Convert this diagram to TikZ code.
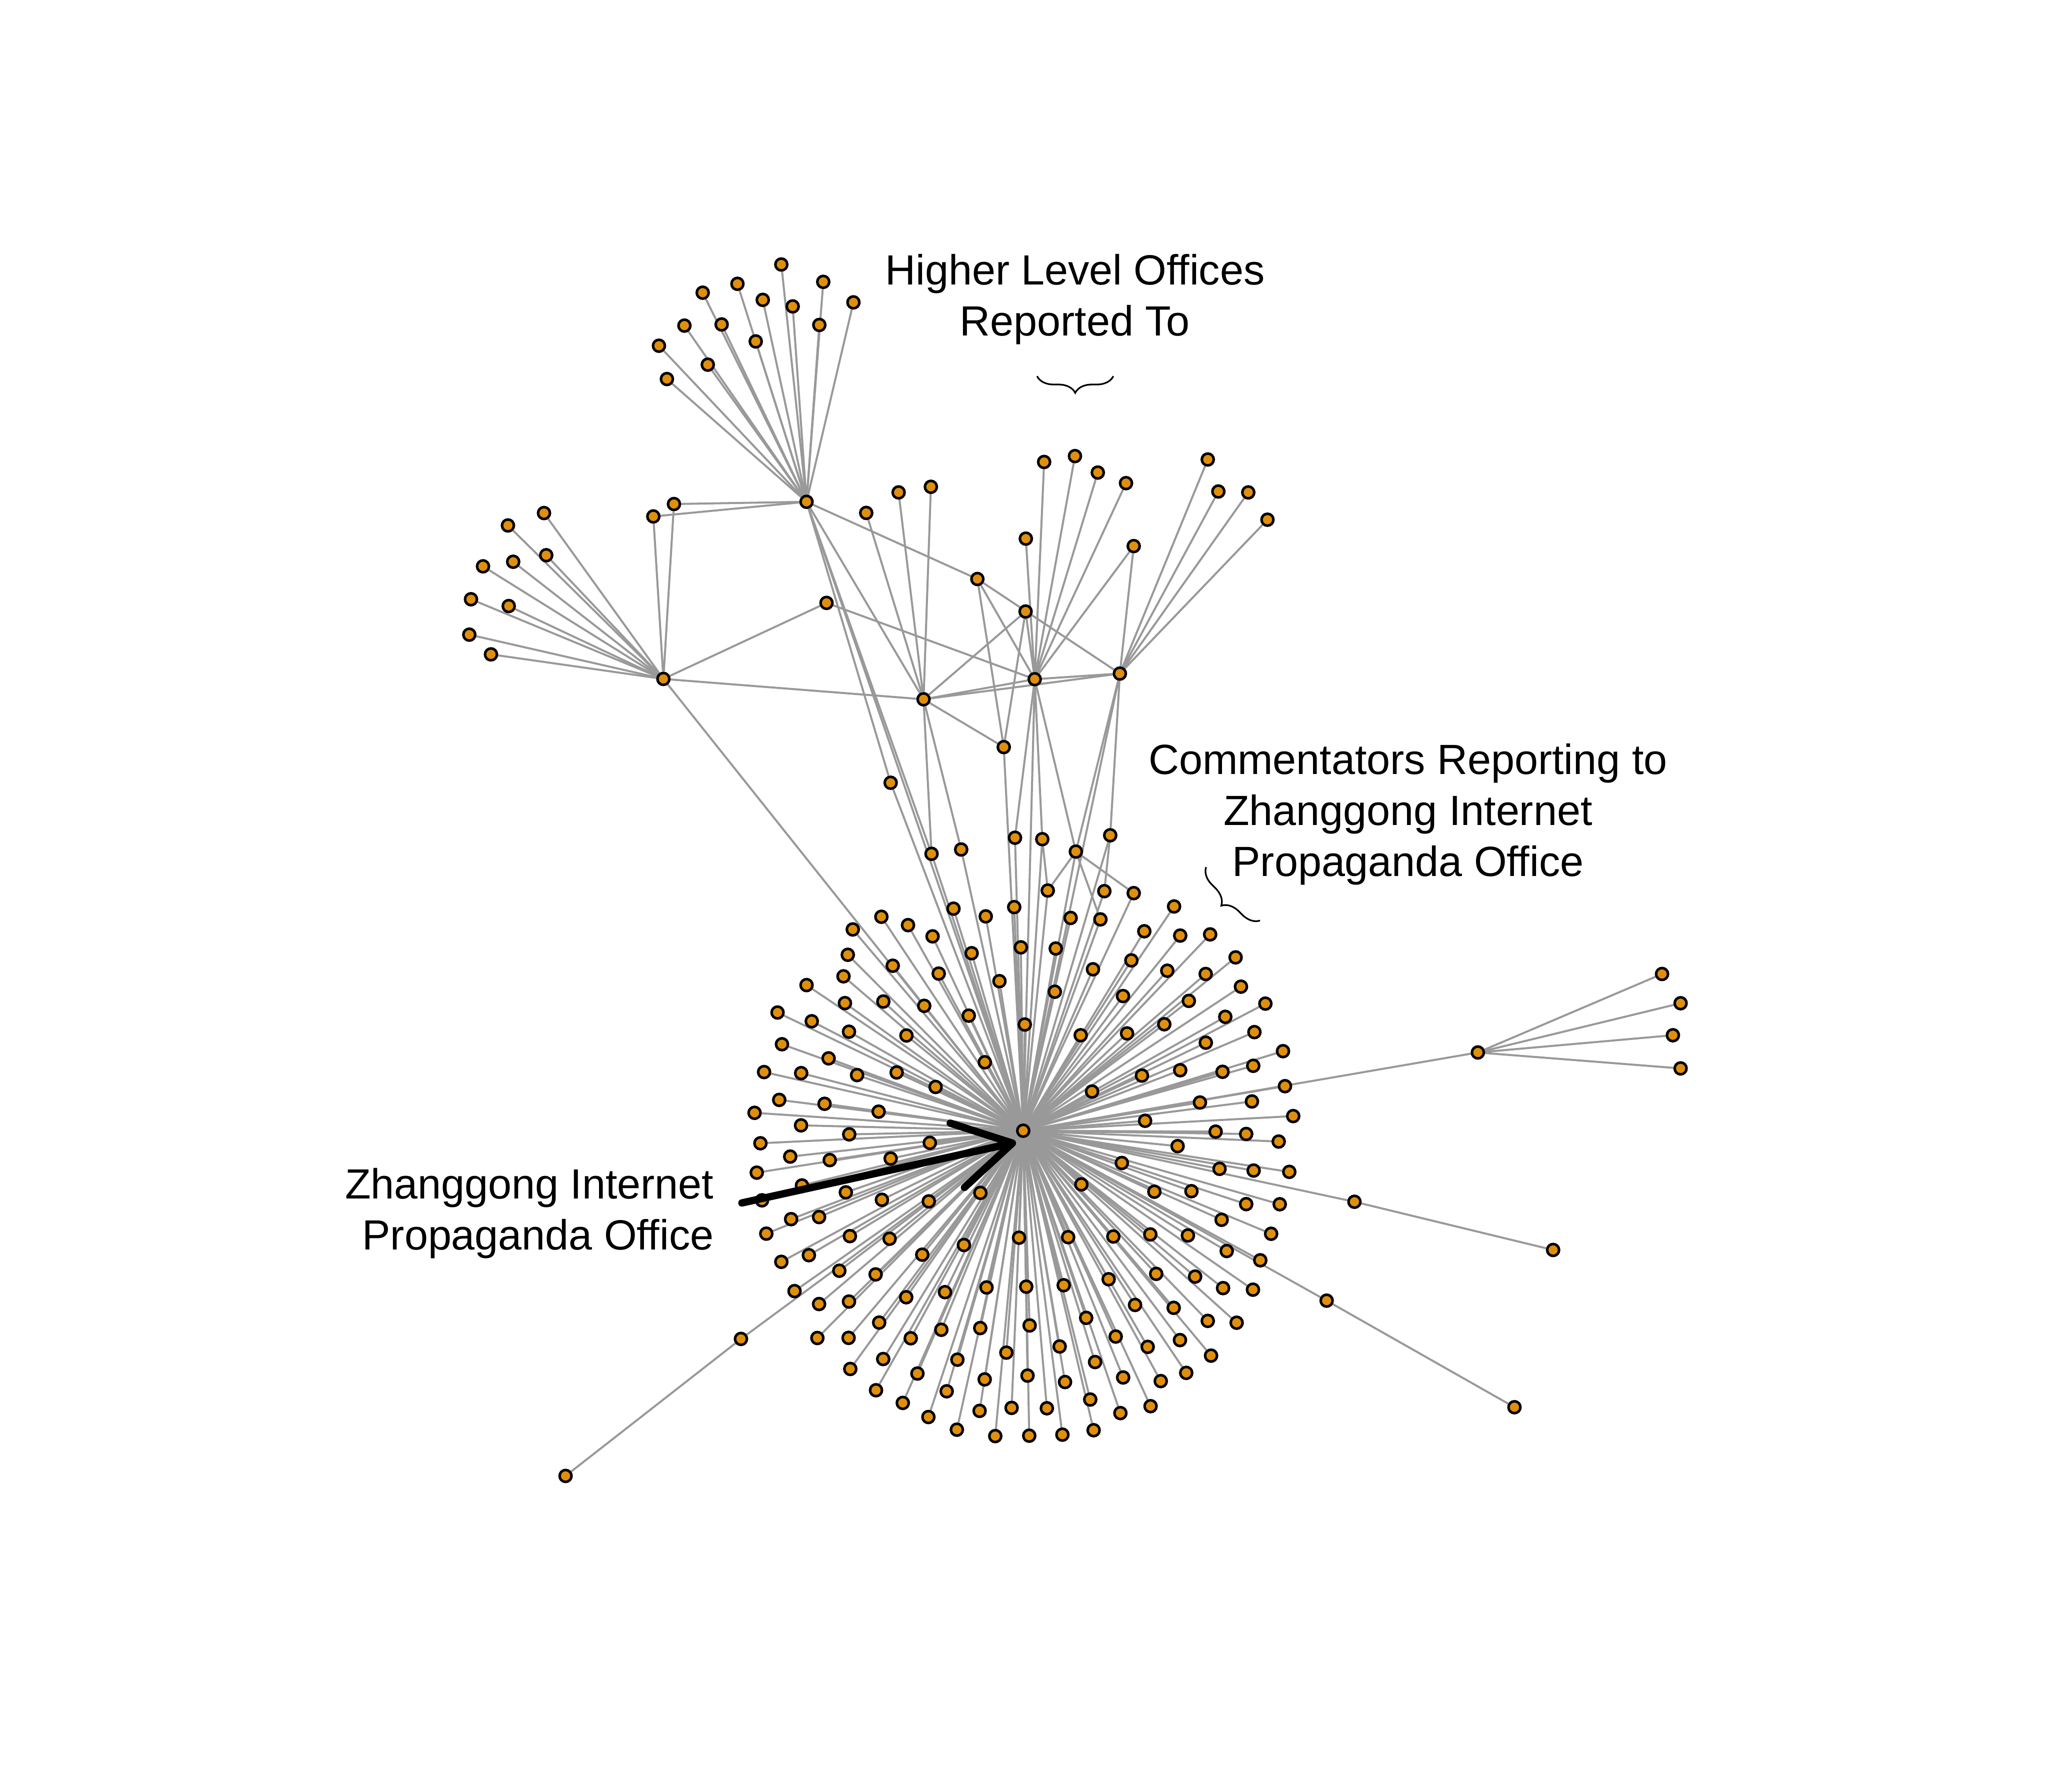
\documentclass[tikz,border=0pt]{standalone}
\usepackage{fontspec}
\setmainfont{Liberation Sans}
\usetikzlibrary{arrows.meta,decorations.pathreplacing,backgrounds}
\definecolor{NodeOrange}{RGB}{224,143,12}
\definecolor{LinkGray}{RGB}{153,153,153}

\begin{document}
\begin{tikzpicture}[x=0.125mm, y=-0.125mm,
    person/.style={circle, draw=black, fill=NodeOrange, line width=0.7pt, inner sep=0pt, minimum size=1.14mm},
    link/.style={draw=LinkGray, line width=0.55pt},
    note/.style={font=\fontsize{11.5}{13.9}\selectfont, inner sep=0pt},
    pointer/.style={line width=2pt, line cap=round, -{Straight Barb[length=5.4mm, width=6.3mm, round]}},
    bracket/.style={decorate, decoration={brace, amplitude=1.6mm, mirror}, line width=0.45pt}
]
\useasboundingbox (0,0) rectangle (1568,1372);

% Zhanggong office
\node[person] (zhg) at (783.4,865.7) {};

% Higher level offices
\node[person] (offA) at (617.5,384.2) {};
\node[person] (offB) at (507.9,519.8) {};
\node[person] (offC) at (707.1,535.4) {};
\node[person] (offD) at (792.2,520) {};
\node[person] (offE) at (857.4,515.7) {};
\node[person] (via1) at (516,385.9) {};
\node[person] (via2) at (500.2,395.4) {};
\node[person] (mid1) at (632.8,461.6) {};
\node[person] (up1) at (663.2,392.7) {};
\node[person] (up2) at (688,377) {};
\node[person] (up3) at (712.7,372.7) {};
\node[person] (tw) at (868,418.1) {};
\node[person] (n1) at (748.3,443.3) {};
\node[person] (n2) at (785.2,468.2) {};
\node[person] (n3) at (768.5,572) {};
\node[person] (p1) at (681.9,599.3) {};
\node[person] (p2) at (713.2,653.7) {};
\node[person] (p3) at (735.9,650.4) {};
\node[person] (r1) at (777.1,641.4) {};
\node[person] (r2) at (798,642.5) {};
\node[person] (r3) at (850,639.5) {};
\node[person] (q) at (823.7,652) {};

% leaves of the upper offices
\foreach \x/\y [count=\i] in {598.2/202.5, 630.3/215.8, 564.6/217.3, 538/224.1, 584/229.6, 606.9/234.6, 653.4/231.5,
    524/249.3, 552.5/248.4, 627.3/248.8, 504.5/264.7, 578.6/261.4, 541.9/279.2, 510.6/290.2}
  \node[person] (ta\i) at (\x,\y) {};
\foreach \x/\y [count=\i] in {416.5/392.8, 388.9/402.3, 418.2/425.1, 392.9/430.1, 369.8/433.6, 360.6/458.8,
    389.5/464, 359.3/485.9, 375.9/501}
  \node[person] (lb\i) at (\x,\y) {};
\foreach \x/\y [count=\i] in {799.4/353.7, 823/349.2, 840.5/361.8, 862.1/369.9, 785.4/412.4}
  \node[person] (td\i) at (\x,\y) {};
\foreach \x/\y [count=\i] in {924.7/351.8, 932.8/376.3, 955.7/377, 970.4/397.9}
  \node[person] (te\i) at (\x,\y) {};

% commentators
\foreach \x/\y [count=\i] in {730/695.7, 754.7/701.6, 776.5/694.5, 674.8/701.9, 695.2/708.3, 652.9/711.6, 714/716.9,
    743.9/729.8, 781.6/725.3, 649.1/731, 683.5/739.4, 718.7/745.4, 645.8/747.5, 765.2/751.2, 617.5/754.2,
    646.9/768, 676.3/766.8, 707.6/770.1, 741.7/777.6, 595.3/775.2, 621.5/781.9, 650/789.9, 694/792.8,
    784.6/784.4, 598.7/799.5, 634.4/810.3, 754/813.3, 585/820.8, 613.4/821.6, 656.2/823.1, 686.5/821.1,
    716.3/832.2, 596.6/842.1, 631.3/845.1, 672.7/851.1, 577.7/852, 613.3/861.6, 650.2/868.5, 582.2/875.3,
    711.9/875, 802.2/681.8, 845.5/682.3, 868/683.8, 898.9/694, 819.7/702.8, 842.5/703.9, 876.1/713,
    903.6/716.3, 926.5/715.4, 808.3/726.2, 866.2/735.3, 893.7/743.2, 923.1/745.7, 946/733, 836.8/742.1,
    859.8/762.6, 807.6/759.3, 910.2/766.3, 950.1/755.4, 968.8/768.4, 891.4/784.2, 938.1/778.5, 960.4/790.2,
    827.4/792.6, 862.9/791.2, 923.2/798.3, 982.3/804.8, 903.6/819.4, 874.3/823.5, 936/820.6, 959.5/816,
    836.1/835.7, 983.8/831.6, 918.7/844.1, 958.5/843.3, 990.1/854.5, 876.7/858.1, 930.7/866.4, 954.1/868.2,
    979/874, 901.6/877.5, 605/885.5, 635.3/888.2, 681.9/887, 579.4/897.8, 614/907.6, 583.4/919,
    647.6/912.9, 675.2/918.6, 711.1/919.8, 750.6/913.3, 605.7/933.4, 627.1/931.8, 586.7/944.5, 650.7/946.4,
    681.1/948.4, 738/953.2, 780.2/947.6, 598.2/966.1, 619.3/961, 642.6/972.9, 670.4/975.7, 706.1/960.6,
    608.3/988.5, 627.1/998.4, 650/996.5, 693.8/993.2, 723.5/989.3, 755.3/985.7, 785.7/985.1, 567.3/1025.1,
    625.8/1024.4, 649.7/1024.3, 673.1/1012.6, 697.3/1024.6, 720.7/1018.1, 750.5/1016.8, 788.3/1014.8,
    770.5/1035.6, 733/1041, 676.2/1040.5, 651/1048.1, 702.4/1051.6, 753.9/1056.1, 786.7/1053.2, 670.7/1064.4,
    724.8/1065.2, 691.2/1074.1, 710.8/1084.9, 750/1080.2, 774.5/1077.9, 801.5/1078.2, 732.6/1094.6,
    762/1099.5, 788/1099.2, 858.9/890.4, 933.7/894.9, 959.8/896.2, 987.1/897.2, 827.9/906.8, 883.8/912.4,
    912.2/912, 954.1/921.9, 979.8/922, 1037/920.1, 935.3/933.9, 973.2/944.6, 817.8/947.2, 852.4/946.7,
    880.7/945.1, 909.5/945.9, 939.2/957.8, 964.9/964.9, 814.4/984, 848.8/979.4, 885.2/975.3, 915/977.4,
    936.4/986.2, 959.3/987.4, 1015.7/995.8, 869/999.1, 898.6/1001.3, 924.7/1011.3, 946.8/1012.7,
    831.6/1009, 854.2/1023.3, 878.7/1031.2, 903.4/1026, 927.2/1037.9, 811.3/1030.9, 838.4/1042.8,
    859.9/1054.6, 888.7/1057.4, 908.2/1051.1, 815.4/1058.1, 834.7/1071.5, 857.8/1081.9, 880.9/1076.6,
    813.4/1098.4, 837.3/1095}
  \node[person] (c\i) at (\x,\y) {};

% outliers
\node[person] (side) at (1131.5,805.8) {};
\foreach \x/\y [count=\i] in {1272.5/745.7, 1286.7/768.1, 1280.8/792.6, 1286.7/818}
  \node[person] (k\i) at (\x,\y) {};
\node[person] (far1) at (433,1130) {};
\node[person] (far2) at (1189.1,957) {};
\node[person] (far3) at (1159.5,1077.4) {};

% links
\begin{scope}[on background layer]
\foreach \i in {1,...,180} \draw[link] (c\i) -- (zhg);
\foreach \i in {1,...,14} \draw[link] (offA) -- (ta\i);
\foreach \i in {1,...,9} \draw[link] (offB) -- (lb\i);
\foreach \i in {1,...,5} \draw[link] (offD) -- (td\i);
\foreach \i in {1,...,4} \draw[link] (offE) -- (te\i);
\foreach \i in {1,...,4} \draw[link] (side) -- (k\i);
\foreach \a/\b in {offA/via1, offA/via2, via1/offB, via2/offB, offB/mid1, mid1/offD, offB/offC, offB/zhg,
    offA/n1, offA/offC, offA/p1, offA/p2, offA/zhg, p1/zhg, p2/zhg, p3/zhg, offC/up1, offC/up2, offC/up3,
    offC/offD, offC/offE, offD/offE, offC/n2, offC/n3, offC/p2, offC/p3, offD/tw, offE/tw, n1/offD, n1/offE,
    n1/n3, n2/offD, n2/n3, n3/zhg, offD/r1, offD/r2, offD/q, offD/zhg, offE/r3, offE/q, offE/zhg, r1/zhg,
    r2/zhg, r3/zhg, q/zhg, q/c41, q/c43, q/c46, r2/c41, r3/c42, zhg/side, c111/far1, c145/far2, c160/far3}
  \draw[link] (\a) -- (\b);
\end{scope}

% Labels
\node[note, align=center, anchor=base] (hlo) at (823,257) {Higher Level Offices\\Reported To};
\draw[bracket] (794,288) -- (852.4,288);
\node[note, align=center, anchor=base] (crz) at (1078,671) {Commentators Reporting to\\Zhanggong Internet\\Propaganda Office};
\draw[bracket] (923.4,663.9) -- (964.7,704.8);
\node[note, align=right, anchor=base east] (zio) at (547,957) {Zhanggong Internet\\Propaganda Office};

% Pointer to the office
\coordinate (ptrtail) at (568,921);
\coordinate (ptrtip) at (777.9,874.6);
\draw[pointer] (ptrtail) -- (ptrtip);

\end{tikzpicture}
\end{document}
